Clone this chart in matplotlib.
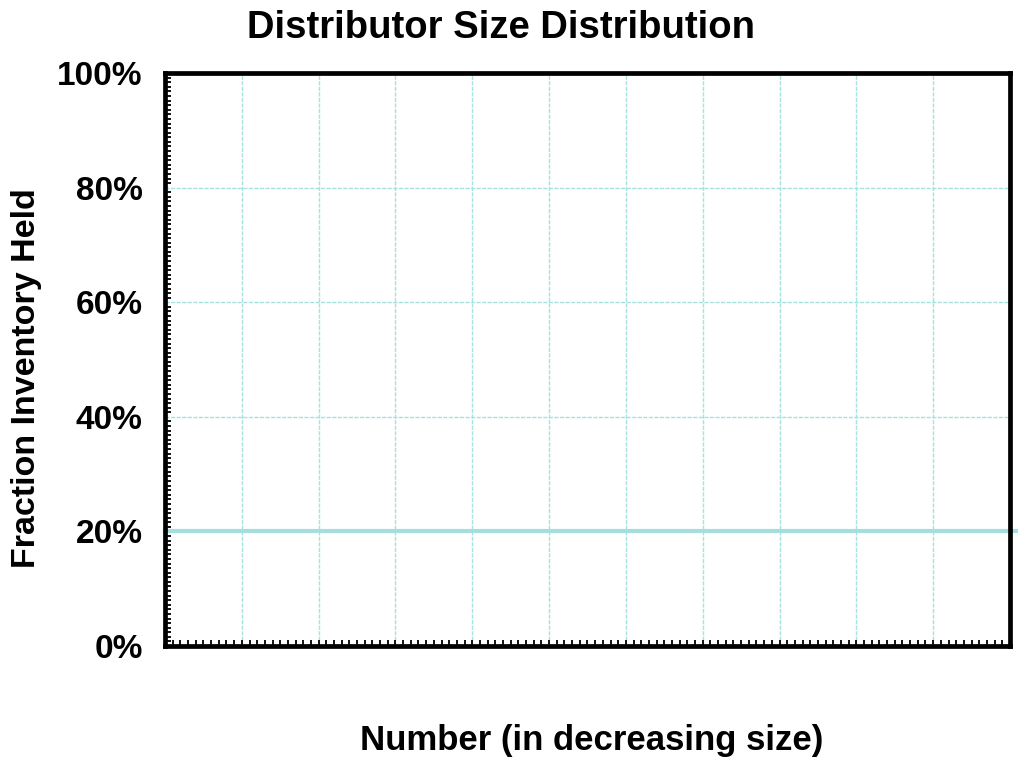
import matplotlib.pyplot as plt
from matplotlib.ticker import MultipleLocator, FuncFormatter

plt.rcParams['font.family'] = ['Liberation Sans', 'DejaVu Sans']
plt.rcParams['font.weight'] = 'bold'

# distributors ranked by size, and the share of inventory they hold
number = [0, 112]
fraction_held = [0.20, 0.20]

grid_x = [10, 20, 30, 40, 50, 60, 70, 80, 90, 100]
y_ticks = [0.0, 0.2, 0.4, 0.6, 0.8, 1.0]

fig = plt.figure(figsize=(10.18, 7.57), dpi=100)
ax = fig.add_axes([0.1621, 0.1466, 0.830, 0.7568])

ax.set_xlim(0, 110)
ax.set_ylim(0, 1)

# gridlines
for gx in grid_x:
    ax.axvline(gx, color='#a6e2e2', lw=1, ls=(0, (3, 1)), zorder=1)
for gy in y_ticks[1:-1]:
    ax.axhline(gy, color='#a6e2e2', lw=1, ls=(0, (3, 1)), zorder=1)

ax.plot(number, fraction_held, color='#a4dede', lw=3, clip_on=False, zorder=2)

ax.set_yticks(y_ticks)
ax.yaxis.set_major_formatter(FuncFormatter(lambda v, p: '%d%%' % round(v * 100)))
ax.yaxis.set_minor_locator(MultipleLocator(0.008))
ax.set_xticks([])
ax.xaxis.set_minor_locator(MultipleLocator(1))

ax.tick_params(axis='y', which='major', direction='in', length=0, pad=16,
               labelsize=24)
ax.tick_params(which='minor', direction='in', length=4.5, width=1.3, color='black')

for s in ax.spines.values():
    s.set_linewidth(3.4)
    s.set_color('black')

fig.text(0.492, 0.963, 'Distributor Size Distribution', ha='center', va='center',
         fontsize=27.5, fontweight='bold')
fig.text(0.581, 0.022, 'Number (in decreasing size)', ha='center', va='center',
         fontsize=25, fontweight='bold')
fig.text(0.026, 0.50, 'Fraction Inventory Held', ha='center', va='center',
         rotation=90, fontsize=24.5, fontweight='bold')

fig.savefig('out.png', dpi=100)
